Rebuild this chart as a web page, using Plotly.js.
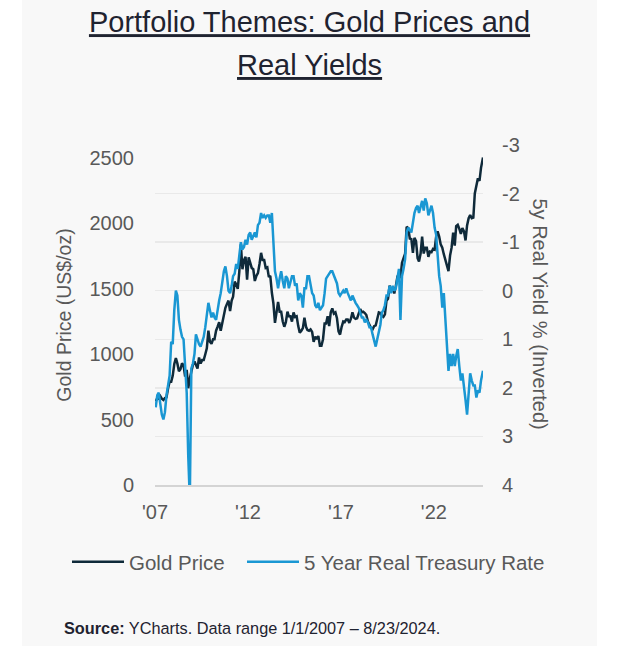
<!DOCTYPE html>
<html>
<head>
<meta charset="utf-8">
<script src="https://cdn.plot.ly/plotly-3.0.1.min.js"></script>
<style>
  html, body { margin: 0; padding: 0; background: #ffffff; }
  #chart { position: absolute; left: 22px; top: 0; width: 575px; height: 646px; }
</style>
</head>
<body>
<div id="chart"></div>
<script>
// Monthly observations, Jan 2007 .. Aug 2024
const startYear = 2007;
const monthCount = 212;

// Gold price, US$/oz (monthly)
const goldPrice = [
  // 2007
  640, 665, 660, 680, 660, 650, 665, 670, 740, 790, 790, 835,
  // 2008
  925, 970, 930, 870, 885, 930, 915, 830, 880, 740, 815, 870,
  // 2009
  920, 945, 920, 890, 975, 930, 955, 955, 1000, 1045, 1180, 1095,
  // 2010
  1080, 1115, 1115, 1180, 1210, 1245, 1180, 1245, 1310, 1355, 1385, 1410,
  // 2011
  1330, 1410, 1440, 1555, 1535, 1500, 1630, 1840, 1650, 1720, 1745, 1570,
  // 2012
  1740, 1700, 1660, 1650, 1560, 1600, 1620, 1690, 1775, 1720, 1720, 1660,
  // 2013
  1665, 1590, 1600, 1470, 1390, 1240, 1320, 1400, 1325, 1325, 1250, 1210,
  // 2014
  1245, 1325, 1290, 1290, 1250, 1320, 1285, 1290, 1215, 1165, 1180, 1200,
  // 2015
  1280, 1210, 1185, 1180, 1190, 1170, 1095, 1135, 1115, 1140, 1065, 1065,
  // 2016
  1115, 1235, 1235, 1290, 1215, 1320, 1350, 1310, 1320, 1275, 1175, 1150,
  // 2017
  1210, 1250, 1245, 1265, 1265, 1240, 1270, 1320, 1280, 1270, 1275, 1305,
  // 2018
  1345, 1320, 1325, 1315, 1300, 1250, 1225, 1200, 1190, 1215, 1220, 1280,
  // 2019
  1320, 1315, 1295, 1285, 1305, 1410, 1425, 1525, 1485, 1510, 1465, 1520,
  // 2020
  1590, 1585, 1590, 1700, 1730, 1770, 1975, 1965, 1885, 1880, 1775, 1890,
  // 2021
  1865, 1735, 1710, 1770, 1900, 1770, 1815, 1815, 1745, 1785, 1780, 1805,
  // 2022
  1800, 1900, 1940, 1900, 1840, 1815, 1765, 1720, 1660, 1635, 1755, 1815,
  // 2023
  1930, 1830, 1980, 1990, 1960, 1920, 1965, 1940, 1870, 1985, 2040, 2065,
  // 2024
  2040, 2045, 2230, 2290, 2345, 2325, 2425, 2505
];

// 5 Year Real Treasury Rate, % (monthly)
const realYield = [
  // 2007
  2.40, 2.15, 2.10, 2.30, 2.55, 2.65, 2.50, 2.15, 1.95, 1.75, 1.05, 1.10,
  // 2008
  0.40, 0.00, 0.10, 0.60, 0.80, 0.95, 1.00, 1.50, 2.10, 3.40, 4.30, 1.60,
  // 2009
  1.50, 1.30, 0.90, 1.00, 1.10, 1.15, 1.05, 0.95, 0.75, 0.50, 0.25, 0.40,
  // 2010
  0.55, 0.45, 0.55, 0.60, 0.35, 0.20, 0.05, -0.20, -0.40, -0.50, -0.30, 0.00,
  // 2011
  0.05, -0.10, -0.30, -0.35, -0.55, -0.45, -0.75, -1.00, -0.85, -0.90, -1.05, -0.95,
  // 2012
  -1.15, -1.20, -1.05, -1.15, -1.20, -1.10, -1.35, -1.40, -1.60, -1.50, -1.55, -1.50,
  // 2013
  -1.55, -1.55, -1.40, -1.60, -0.85, -0.40, -0.25, -0.05, -0.25, -0.40, -0.20, -0.05,
  // 2014
  -0.30, -0.25, -0.05, -0.20, -0.30, -0.30, -0.10, -0.15, 0.20, 0.05, 0.10, 0.35,
  // 2015
  -0.05, -0.05, -0.30, -0.30, -0.15, 0.05, 0.10, 0.30, 0.35, 0.25, 0.40, 0.35,
  // 2016
  0.30, 0.05, -0.25, -0.30, -0.35, -0.40, -0.40, -0.30, -0.25, -0.15, 0.05, 0.10,
  // 2017
  0.05, 0.00, 0.05, -0.05, 0.05, 0.15, 0.20, 0.10, 0.20, 0.25, 0.30, 0.35,
  // 2018
  0.45, 0.55, 0.55, 0.65, 0.60, 0.65, 0.75, 0.75, 0.90, 1.05, 1.15, 1.00,
  // 2019
  0.85, 0.70, 0.45, 0.40, 0.30, 0.10, 0.10, -0.10, 0.05, -0.10, 0.00, -0.05,
  // 2020
  -0.25, -0.45, 0.60, -0.30, -0.45, -0.65, -1.20, -1.30, -1.25, -1.20, -1.40, -1.60,
  // 2021
  -1.70, -1.75, -1.60, -1.75, -1.85, -1.65, -1.90, -1.80, -1.55, -1.65, -1.75, -1.60,
  // 2022
  -1.30, -1.15, -0.75, -0.30, -0.10, 0.35, 0.05, 0.60, 1.25, 1.65, 1.30, 1.55,
  // 2023
  1.30, 1.55, 1.35, 1.20, 1.55, 1.85, 1.70, 2.05, 2.25, 2.55, 2.05, 1.70,
  // 2024
  1.85, 1.95, 1.95, 2.20, 2.05, 2.10, 1.85, 1.65
];

const seriesNames = ['Gold Price', '5 Year Real Treasury Rate'];
const xTickVals = ['2007-01-01', '2012-01-01', '2017-01-01', '2022-01-01'];
const xTickText = ["'07", "'12", "'17", "'22"];
const leftTickVals = [0, 500, 1000, 1500, 2000, 2500];
const rightTickVals = [-3, -2, -1, 0, 1, 2, 3, 4];
const rightTickText = ['-3', '-2', '-1', '0', '1', '2', '3', '4'];

// Build month dates (x domain)
const dates = [];
for (let i = 0; i < monthCount; i++) {
  const y = startYear + Math.floor(i / 12);
  const m = (i % 12) + 1;
  const day = (i === monthCount - 1) ? '23' : '15';
  dates.push(y + '-' + String(m).padStart(2, '0') + '-' + day);
}

const FONT = 'Liberation Sans, Arial, Helvetica, sans-serif';
const GREY = '#595959';

const traces = [
  {
    x: dates, y: goldPrice, name: seriesNames[0], type: 'scatter', mode: 'lines',
    line: { color: '#0f2a3a', width: 2.5 }, yaxis: 'y', legend: 'legend'
  },
  {
    x: dates, y: realYield, name: seriesNames[1], type: 'scatter', mode: 'lines',
    line: { color: '#1a97d3', width: 2.5 }, yaxis: 'y2', legend: 'legend2'
  }
];

const legendBase = {
  orientation: 'h', xanchor: 'left',
  y: (485 - 562) / 340, yanchor: 'middle',
  bgcolor: 'rgba(0,0,0,0)',
  font: { family: FONT, size: 20.5, color: GREY },
  itemwidth: 52
};

const layout = {
  width: 575, height: 646,
  paper_bgcolor: '#f8f8f8', plot_bgcolor: 'rgba(0,0,0,0)',
  margin: { l: 133, r: 114, t: 145, b: 161 },
  font: { family: FONT, size: 20, color: GREY },
  title: {
    text: '<u>Portfolio Themes: Gold Prices and</u>',
    x: 0.5, xref: 'container', xanchor: 'center',
    y: 1 - 22 / 646, yref: 'container', yanchor: 'middle',
    font: { family: FONT, size: 29, color: '#1f2330' }
  },
  xaxis: {
    type: 'date',
    range: ['2007-01-01', '2024-08-23'],
    tickvals: xTickVals, ticktext: xTickText,
    showgrid: false, zeroline: false,
    showline: true, linecolor: '#d4d4d4', linewidth: 1.5,
    ticks: '', ticklabelstandoff: 8,
    tickfont: { family: FONT, size: 20, color: GREY }
  },
  yaxis: {
    range: [0, 2600],
    tickvals: leftTickVals,
    showgrid: false, zeroline: false, showline: false,
    ticks: '', ticklabelstandoff: 20,
    tickfont: { family: FONT, size: 20, color: GREY },
    title: { text: 'Gold Price (US$/oz)', standoff: 12, font: { family: FONT, size: 19.5, color: GREY } }
  },
  yaxis2: {
    overlaying: 'y', side: 'right',
    range: [4, -3],
    tickvals: rightTickVals, ticktext: rightTickText,
    showgrid: true, gridcolor: '#e9e9e9', gridwidth: 1.5,
    zeroline: false, showline: false,
    ticks: '', ticklabelstandoff: 18,
    tickfont: { family: FONT, size: 20, color: GREY }
  },
  showlegend: true,
  legend: Object.assign({}, legendBase, { x: (67 - 155) / 328 }),
  legend2: Object.assign({}, legendBase, { x: (242 - 155) / 328 }),
  annotations: [
    {
      text: '<u>Real Yields</u>',
      xref: 'paper', yref: 'paper',
      x: (309.5 - 155) / 328, y: (485 - 65) / 340,
      xanchor: 'center', yanchor: 'middle', showarrow: false,
      font: { family: FONT, size: 29, color: '#1f2330' }
    },
    {
      text: '5y Real Yield % (Inverted)',
      xref: 'paper', yref: 'paper',
      x: (540 - 155) / 328, y: (485 - 313.5) / 340,
      xanchor: 'center', yanchor: 'middle', showarrow: false,
      textangle: 90,
      font: { family: FONT, size: 20, color: GREY }
    },
    {
      text: '<b>Source:</b> YCharts. Data range 1/1/2007 – 8/23/2024.',
      xref: 'paper', yref: 'paper',
      x: (62 - 155) / 328, y: (485 - 628) / 340,
      xanchor: 'left', yanchor: 'middle', showarrow: false,
      font: { family: FONT, size: 16.3, color: '#1f2330' }
    }
  ]
};

Plotly.newPlot('chart', traces, layout, { displayModeBar: false, staticPlot: true });
</script>
</body>
</html>
